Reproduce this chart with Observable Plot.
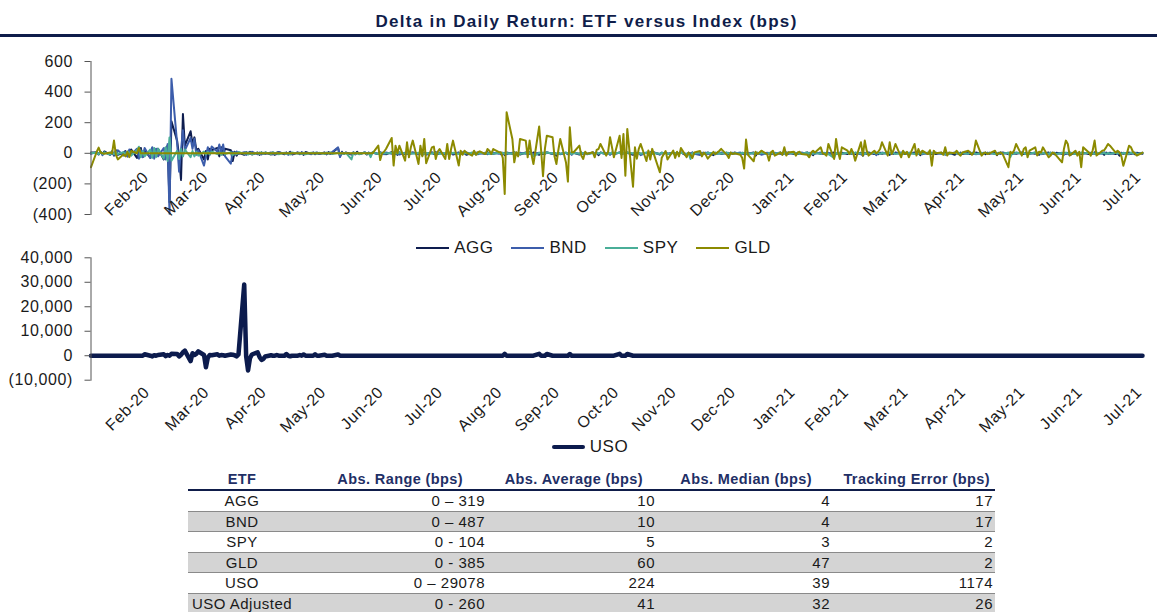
<!DOCTYPE html>
<html><head><meta charset="utf-8">
<script src="https://cdn.jsdelivr.net/npm/d3@7"></script>
<script src="https://cdn.jsdelivr.net/npm/@observablehq/plot@0.6"></script>
<style>
html,body{margin:0;padding:0;background:#fff;}
#root{position:relative;width:1157px;height:612px;overflow:hidden;font-family:"Liberation Sans",Arial,sans-serif;color:#1a1a1a;}
.abs{position:absolute;}
#title{left:8px;top:12px;width:1157px;text-align:center;font-weight:bold;font-size:17px;letter-spacing:1.3px;color:#0f1d4a;line-height:20px;}
#rule{left:0;top:34px;width:1157px;height:2.5px;background:#0f1d4a;}
.legend{display:flex;justify-content:center;align-items:center;font-size:17px;letter-spacing:0.5px;line-height:20px;height:20px;}
.item{display:flex;align-items:center;margin:0 9px;}
.sw{width:33px;margin-right:5px;}
.cell{position:absolute;top:0;white-space:nowrap;}
</style></head>
<body><div id="root"></div>
<script>
// ---------------- DATA ----------------
const seriesNames = ["AGG", "BND", "SPY", "GLD"];
const monthLabels = ["Feb-20","Mar-20","Apr-20","May-20","Jun-20","Jul-20","Aug-20","Sep-20","Oct-20","Nov-20","Dec-20",
  "Jan-21","Feb-21","Mar-21","Apr-21","May-21","Jun-21","Jul-21"];
const topTicks = [-400, -200, 0, 200, 400, 600];
const bottomTicks = [-10000, 0, 10000, 20000, 30000, 40000];
const firstDay = "2020-01-31";

// daily delta (bps), one value per weekday from 31-Jan-2020 to 02-Aug-2021
const agg = [5,
  5,-8,10,-5,12,-10,8,-15,20,-10,5,15,-20,10,25,-30,15,35,-25,20,
  -30,35,-20,25,30,-40,20,50,-319,210,80,-20,-174,257,50,144,60,104,20,30,-40,15,
  -40,30,20,35,-20,40,-10,30,20,-50,10,-15,5,-10,8,-5,10,-8,5,-10,6,-5,
  5,-8,6,-10,4,8,-6,5,-4,10,-8,5,-5,6,-10,8,-4,5,-6,4,-5,
  5,-6,8,-4,6,35,-20,10,-5,5,-8,6,-4,10,-5,5,-8,4,-6,5,-4,6,
  -5,4,-6,8,-3,5,-10,6,-4,5,-8,3,6,-5,4,-12,5,-3,6,-4,8,-5,3,
  -4,6,-3,5,-8,4,-5,3,6,-10,4,-3,5,-6,3,-4,8,-5,4,-3,5,
  -6,4,-12,5,-3,6,-4,3,-8,5,-4,6,-3,5,-10,4,-5,3,6,-4,5,-15,
  4,-5,3,-6,5,-3,4,-8,5,-4,3,-5,6,-4,3,-12,5,-3,4,-6,3,-5,
  5,-4,3,-6,4,-10,5,-3,4,-5,3,-4,6,-3,5,-8,4,-3,5,-4,3,
  -5,4,-3,6,-15,3,-4,5,-3,4,-6,3,-4,5,-12,4,-3,5,-4,3,-5,4,-3,
  5,-4,3,-6,4,-3,5,-15,4,-3,6,-4,3,-5,4,-3,5,-8,4,-3,5,
  -4,3,-5,4,-3,6,-4,3,-12,5,-3,4,-5,3,-4,6,-3,4,-10,3,
  -5,4,-3,5,-4,3,-15,4,-3,5,-4,3,-6,4,-3,5,-10,4,-3,5,-4,3,-5,
  4,-3,5,-4,3,-12,4,-3,5,-4,3,-5,4,-3,6,-4,3,-10,4,-3,5,-4,
  3,-5,4,-3,5,-4,3,-6,4,-3,5,-12,4,-3,5,-4,3,-5,4,-3,5,
  -4,3,-5,4,-3,5,-10,4,-3,5,-4,3,-6,4,-3,5,-4,3,-12,4,-3,5,
  -4,3,-5,4,-3,6,-4,3,-10,5,-3,4,-5,3,-15,4,-3,5,-4,3,-6,4,
  -3];
const bnd = [-4,
  8,-5,10,-12,5,-8,15,-10,5,20,-15,10,-20,25,-10,30,-35,20,-25,35,
  -30,40,-35,30,-20,35,-40,60,-395,487,60,-120,20,150,20,100,30,95,-10,20,-80,-20,
  40,-10,45,10,58,5,58,-20,-68,10,-8,12,-5,8,-10,6,-5,10,-6,5,-8,4,
  -5,6,-8,4,-6,8,-4,5,-10,6,-4,5,-6,8,-5,4,-6,5,-4,6,-5,
  4,-6,5,-4,8,39,-25,6,-5,4,-6,5,-8,4,-5,6,-4,5,-6,4,-5,6,
  4,-6,5,-3,6,-4,5,-8,4,-5,6,-3,4,-6,5,-4,3,-10,5,-4,6,-3,4,
  -5,3,-6,4,-3,5,-4,6,-3,5,-4,3,-8,5,-3,4,-6,3,-5,4,-3,
  5,-4,3,-6,4,-3,5,-12,4,-3,6,-4,3,-5,4,-3,5,-4,6,-3,4,-5,
  3,-6,4,-3,5,-10,4,-3,5,-4,3,-6,4,-3,5,-4,3,-5,4,-10,5,-3,
  4,-5,3,-4,6,-3,5,-4,3,-12,4,-3,5,-4,3,-6,4,-3,5,-4,3,
  -4,5,-3,4,-6,3,-4,5,-3,-12,4,-3,5,-4,3,-6,4,-3,5,-4,3,-5,4,
  -3,5,-4,3,-6,4,-3,5,-4,3,-10,4,-3,5,-4,3,-5,4,-3,6,-4,
  3,-5,4,-3,5,-4,3,-6,4,-3,5,-4,3,-5,4,-10,3,-4,5,-3,
  4,-3,5,-4,3,-6,4,-3,5,-4,3,-12,4,-3,5,-4,3,-5,4,-3,6,-4,3,
  -5,4,-3,5,-4,3,-6,4,-3,5,-4,3,-5,4,-10,3,-4,5,-3,4,-5,3,
  -4,5,-3,4,-6,3,-4,5,-3,4,-5,3,-4,6,-3,4,-5,3,-4,5,-3,
  4,-5,3,-4,5,-3,4,-6,3,-4,5,-3,4,-5,3,-10,4,-3,5,-4,3,-5,
  4,-3,5,-4,3,-5,4,-3,6,-4,3,-5,4,-3,5,-4,3,-6,4,-3,5,-4,
  3];
const spy = [2,
  3,-5,8,-4,6,-8,5,-6,10,-5,8,-10,12,5,-15,20,43,-26,15,-20,
  25,-30,35,-25,30,-35,40,-50,104,-48,17,-37,28,-20,25,-26,15,-20,10,-15,12,-8,
  10,-8,12,-6,8,-10,6,-5,8,-12,5,-6,8,-4,6,-8,5,-6,4,-5,6,-4,
  5,-4,6,-3,4,-6,3,-5,4,-8,5,-3,4,-5,3,-6,4,-3,5,-4,3,
  -4,5,-3,6,-5,4,-6,3,-5,4,-40,5,-4,3,-6,5,-4,3,-25,6,-4,5,
  -3,4,-2,3,-4,2,-3,5,-2,3,-4,2,-3,4,-2,3,-5,2,-3,4,-2,3,-4,
  2,-3,4,-2,3,-4,2,-3,5,-2,3,-4,2,-3,4,-2,3,-5,2,-3,4,
  -2,3,-4,2,-3,5,-2,3,-4,2,-3,4,-2,-20,3,-4,2,-3,5,-2,3,-4,
  2,-3,4,-2,3,-5,2,-3,4,-2,3,-4,2,-3,5,-2,3,-4,2,-3,4,-2,
  3,-4,2,-3,5,-2,3,-4,2,-3,4,-2,3,-5,2,-3,4,-2,3,-4,2,
  -3,5,-2,3,-4,2,-37,4,-2,3,-5,2,-3,4,-2,3,-4,2,-3,5,-2,3,-4,
  2,-3,4,-2,3,-5,2,-3,4,-2,3,-4,2,-3,5,-2,3,-4,2,-3,4,
  -2,3,-4,2,-3,5,-2,3,-4,2,-3,4,-2,3,-5,-30,3,-4,2,-3,
  3,-4,2,-3,5,-2,3,-4,2,-3,4,-2,3,-5,2,-3,4,-2,3,-4,2,-3,5,
  -2,3,-4,2,-3,5,-2,3,-4,2,-3,4,-2,3,-5,2,-3,4,-2,3,-4,2,
  -3,5,-2,3,-4,2,-3,4,-2,3,-5,2,-3,4,-2,3,-25,2,-3,4,-2,
  3,-4,2,-3,5,-2,3,-4,2,-3,4,-2,3,-5,2,-3,4,-2,3,-4,2,-3,
  5,-2,3,-4,2,-3,4,-2,3,-5,2,-3,4,-2,3,-4,2,-3,5,-2,3,-4,
  2];
const gld = [-91,
  10,37,5,0,-3,5,0,83,-10,-40,-7,-20,10,-25,15,0,35,0,0,0,
  0,0,0,0,0,0,0,0,0,0,0,0,0,0,0,0,0,0,0,0,0,0,
  0,0,0,0,0,0,0,0,0,0,0,0,0,0,0,0,0,0,0,0,0,0,
  0,0,0,0,0,0,0,0,0,0,0,0,0,0,0,0,0,0,0,0,0,
  0,0,0,0,0,0,0,0,0,0,0,0,0,0,0,0,0,0,0,0,50,-44,
  0,10,28,100,-80,50,0,50,-48,72,-26,39,83,-70,50,-20,94,-65,39,44,-37,10,28,
  -37,61,-37,28,83,-80,17,-10,17,5,-15,17,-10,7,13,-5,28,17,-4,28,7,
  7,-30,-266,268,94,-59,7,-20,94,83,-26,83,-10,-70,175,20,-150,30,115,105,-20,-70,
  20,94,-60,-185,170,7,7,50,-15,-37,10,-4,7,-26,22,28,61,-15,10,105,40,-26,
  115,-30,126,-146,159,-218,39,-35,29,61,-50,18,-41,29,-10,-124,-29,-6,15,-40,18,
  -30,10,-20,35,-25,5,-10,-30,6,15,-20,5,-10,-35,10,-5,6,15,29,-10,-30,5,-5,
  0,-10,-30,-100,90,-10,-52,10,-5,5,17,-5,-48,5,17,-15,5,-10,39,-15,5,
  10,-15,5,10,-5,-10,-26,5,17,5,39,0,-5,-15,61,-37,94,10,-37,39,
  17,-5,28,0,-48,72,-15,83,17,-15,17,0,10,28,72,-15,72,-5,20,61,-26,17,-5,
  10,-26,61,-15,28,-5,17,-5,20,-81,17,0,5,-10,39,-15,5,0,17,-5,-15,5,
  17,5,-10,10,83,-15,0,5,-5,0,17,-10,0,5,-5,-91,10,0,20,61,-15,
  28,39,-26,17,39,-15,10,5,39,-26,-15,5,0,-15,-59,30,83,61,-15,17,-15,10,
  -91,39,5,-15,20,83,-15,17,20,39,61,50,5,17,5,-20,-81,50,39,10,0,-15,
  5];
const uso = [0,
  0,0,0,0,0,0,0,0,0,0,0,0,0,0,0,0,0,0,0,600,
  0,-300,200,0,300,600,-200,300,0,800,700,-300,400,1400,2100,-2200,1000,300,800,1800,300,-4700,
  -800,300,200,600,0,300,200,0,500,400,200,-300,500,29078,-200,-6000,-1000,500,1400,-500,-1700,-1300,
  -300,200,0,0,300,0,0,700,0,-200,0,0,300,0,500,0,0,0,600,0,0,
  400,0,0,0,0,500,0,0,0,0,0,0,0,0,0,0,0,0,0,0,0,0,
  0,0,0,0,0,0,0,0,0,0,0,0,0,0,0,0,0,0,0,0,0,0,0,
  0,0,0,0,0,0,0,0,0,0,0,0,0,0,0,0,0,0,0,0,0,
  0,0,800,0,0,0,0,0,0,0,0,0,0,0,800,0,0,0,700,0,0,0,
  0,0,0,0,700,0,0,0,0,0,0,0,0,0,0,0,0,0,0,0,0,0,
  800,0,0,0,700,0,0,0,0,0,0,0,0,0,0,0,0,0,0,0,0,
  0,0,0,0,0,0,0,0,0,0,0,0,0,0,0,0,0,0,0,0,0,0,0,
  0,0,0,0,0,0,0,0,0,0,0,0,0,0,0,0,0,0,0,0,0,
  0,0,0,0,0,0,0,0,0,0,0,0,0,0,0,0,0,0,0,0,
  0,0,0,0,0,0,0,0,0,0,0,0,0,0,0,0,0,0,0,0,0,0,0,
  0,0,0,0,0,0,0,0,0,0,0,0,0,0,0,0,0,0,0,0,0,0,
  0,0,0,0,0,0,0,0,0,0,0,0,0,0,0,0,0,0,0,0,0,
  0,0,0,0,0,0,0,0,0,0,0,0,0,0,0,0,0,0,0,0,0,0,
  0,0,0,0,0,0,0,0,0,0,0,0,0,0,0,0,0,0,0,0,0,0,
  0];

// table
const tableHeaders = ["ETF", "Abs. Range (bps)", "Abs. Average (bps)", "Abs. Median (bps)", "Tracking Error (bps)"];
const etfNames = ["AGG", "BND", "SPY", "GLD", "USO", "USO Adjusted"];
const absRanges = ["0 \u2013 319", "0 \u2013 487", "0 - 104", "0 - 385", "0 \u2013 29078", "0 - 260"];
const absAverages = [10, 10, 5, 60, 224, 41];
const absMedians = [4, 4, 3, 47, 39, 32];
const trackingErrors = [17, 17, 2, 2, 1174, 26];

// ---------------- BUILD ----------------
(function () {
const navy = "#0f1d4a";
const seriesColors = ["#0e1d4f", "#3c5dab", "#4aae98", "#8c8a00"];
const usoColor = "#0c1b4d";
const FONT = '"Liberation Sans", Arial, sans-serif';

function weekdays(start, n) {
  const out = [];
  let t = Date.parse(start + "T00:00:00Z");
  while (out.length < n) {
    const d = new Date(t);
    const wd = d.getUTCDay();
    if (wd !== 0 && wd !== 6) out.push(d);
    t += 864e5;
  }
  return out;
}
const allSeries = [agg, bnd, spy, gld];
const nDays = Math.max(...allSeries.map(s => s.length), uso.length);
const days = weekdays(firstDay, nDays);
const xDomain = [days[0], days[nDays - 1]];

const topRows = [];
allSeries.forEach((vals, k) => vals.forEach((v, i) => topRows.push({date: days[i], value: v, series: seriesNames[k]})));
const usoRows = uso.map((v, i) => ({date: days[i], value: v}));
const monthTicks = monthLabels.map((label, i) => ({label, at: d3.utcMonth.offset(new Date(Date.UTC(2020, 1, 1)), i + 1)}));

const fmt = v => v < 0 ? "(" + d3.format(",")(-v) + ")" : d3.format(",")(v);
const svgStyle = {fontFamily: FONT, fontSize: "16px", letterSpacing: "0.6px", color: "#1a1a1a", background: "transparent", overflow: "visible"};

const root = document.getElementById("root");
function place(el, left, topPx) { el.style.position = "absolute"; el.style.left = left + "px"; el.style.top = topPx + "px"; root.appendChild(el); }

// title
const title = document.createElement("div");
title.id = "title"; title.className = "abs";
title.textContent = "Delta in Daily Return: ETF versus Index (bps)";
root.appendChild(title);
const rule = document.createElement("div"); rule.id = "rule"; rule.className = "abs"; root.appendChild(rule);

// top chart
const topChart = Plot.plot({
  width: 1157, height: 200,
  marginLeft: 90.5, marginRight: 15, marginTop: 25, marginBottom: 22,
  x: {type: "utc", domain: xDomain, axis: null},
  y: {domain: [-400, 600], axis: null},
  color: {domain: seriesNames, range: seriesColors},
  style: svgStyle,
  marks: [
    Plot.ruleY([0], {stroke: "#8a8a8a", strokeWidth: 1}),
    Plot.line(topRows, {x: "date", y: "value", z: "series", stroke: "series", strokeWidth: 2, curve: "linear"}),
    Plot.frame({anchor: "left", stroke: "#555"}),
    Plot.axisY({ticks: topTicks, tickFormat: fmt, label: null, tickSize: 6, tickPadding: 12, stroke: "#555", fill: "#1a1a1a", fontSize: 16}),
    Plot.text(monthTicks, {x: "at", y: () => 0, text: "label", rotate: -45, textAnchor: "end", lineAnchor: "top", dx: -7, dy: 17, fontSize: 16, fill: "#1a1a1a"})
  ]
});
place(topChart, 0, 36);

// legend 1
const leg1 = document.createElement("div");
leg1.className = "legend";
leg1.style.width = "1187px";
seriesNames.forEach((n, k) => {
  const it = document.createElement("div"); it.className = "item";
  const sw = document.createElement("div"); sw.className = "sw"; sw.style.height = "2px"; sw.style.background = seriesColors[k];
  const tx = document.createElement("span"); tx.textContent = n;
  it.appendChild(sw); it.appendChild(tx); leg1.appendChild(it);
});
place(leg1, 0, 238);

// bottom chart
const bottomChart = Plot.plot({
  width: 1157, height: 175,
  marginLeft: 90.5, marginRight: 15, marginTop: 5.3, marginBottom: 47.3,
  x: {type: "utc", domain: xDomain, axis: null},
  y: {domain: [-10000, 40000], axis: null},
  style: svgStyle,
  marks: [
    Plot.line(usoRows, {x: "date", y: "value", stroke: usoColor, strokeWidth: 4.5, strokeLinejoin: "round"}),
    Plot.frame({anchor: "left", stroke: "#555"}),
    Plot.axisY({ticks: bottomTicks, tickFormat: fmt, label: null, tickSize: 6, tickPadding: 12, stroke: "#555", fill: "#1a1a1a", fontSize: 16}),
    Plot.text(monthTicks, {x: "at", y: () => -10000, text: "label", rotate: -45, textAnchor: "end", lineAnchor: "top", dx: -6, dy: 5, fontSize: 16, fill: "#1a1a1a"})
  ]
});
place(bottomChart, 0, 252);

// legend 2
const leg2 = document.createElement("div");
leg2.className = "legend";
leg2.style.width = "1180px";
{
  const it = document.createElement("div"); it.className = "item";
  const sw = document.createElement("div"); sw.className = "sw"; sw.style.height = "4.5px"; sw.style.background = usoColor; sw.style.borderRadius = "2px";
  const tx = document.createElement("span"); tx.textContent = "USO";
  it.appendChild(sw); it.appendChild(tx); leg2.appendChild(it);
}
place(leg2, 0, 437);

// table
const tbl = document.createElement("div");
tbl.style.width = "807px"; tbl.style.height = "150px";
place(tbl, 188, 470);
const colRightsHead = [null, 275, 455, 624, 802];
const colRightsBody = [null, 297, 467, 642, 805];
function cell(parent, text, i, head) {
  const s = document.createElement("span"); s.className = "cell"; s.textContent = text;
  if (i === 0) { s.style.left = "0px"; s.style.width = "108px"; s.style.textAlign = "center"; }
  else { s.style.right = (807 - (head ? colRightsHead[i] : colRightsBody[i])) + "px"; }
  parent.appendChild(s);
}
const hdr = document.createElement("div");
Object.assign(hdr.style, {position: "absolute", left: "0", top: "0", width: "807px", height: "18.5px", borderBottom: "2.5px solid " + navy,
  fontWeight: "bold", fontSize: "14.5px", letterSpacing: "0.4px", color: "#1f2f66", lineHeight: "19px"});
tableHeaders.forEach((h, i) => cell(hdr, h, i, true));
tbl.appendChild(hdr);
etfNames.forEach((name, r) => {
  const row = document.createElement("div");
  Object.assign(row.style, {position: "absolute", left: "0", top: (21 + r * 20.6) + "px", width: "807px", height: "19.6px",
    borderBottom: "1px solid #8a8a8a", background: r % 2 === 1 ? "#d4d4d4" : "#fff",
    fontSize: "15px", letterSpacing: "0.5px", lineHeight: "20px", color: "#1a1a1a"});
  [name, absRanges[r], absAverages[r], absMedians[r], trackingErrors[r]].forEach((v, i) => cell(row, String(v), i, false));
  tbl.appendChild(row);
});
})();
</script></body></html>
